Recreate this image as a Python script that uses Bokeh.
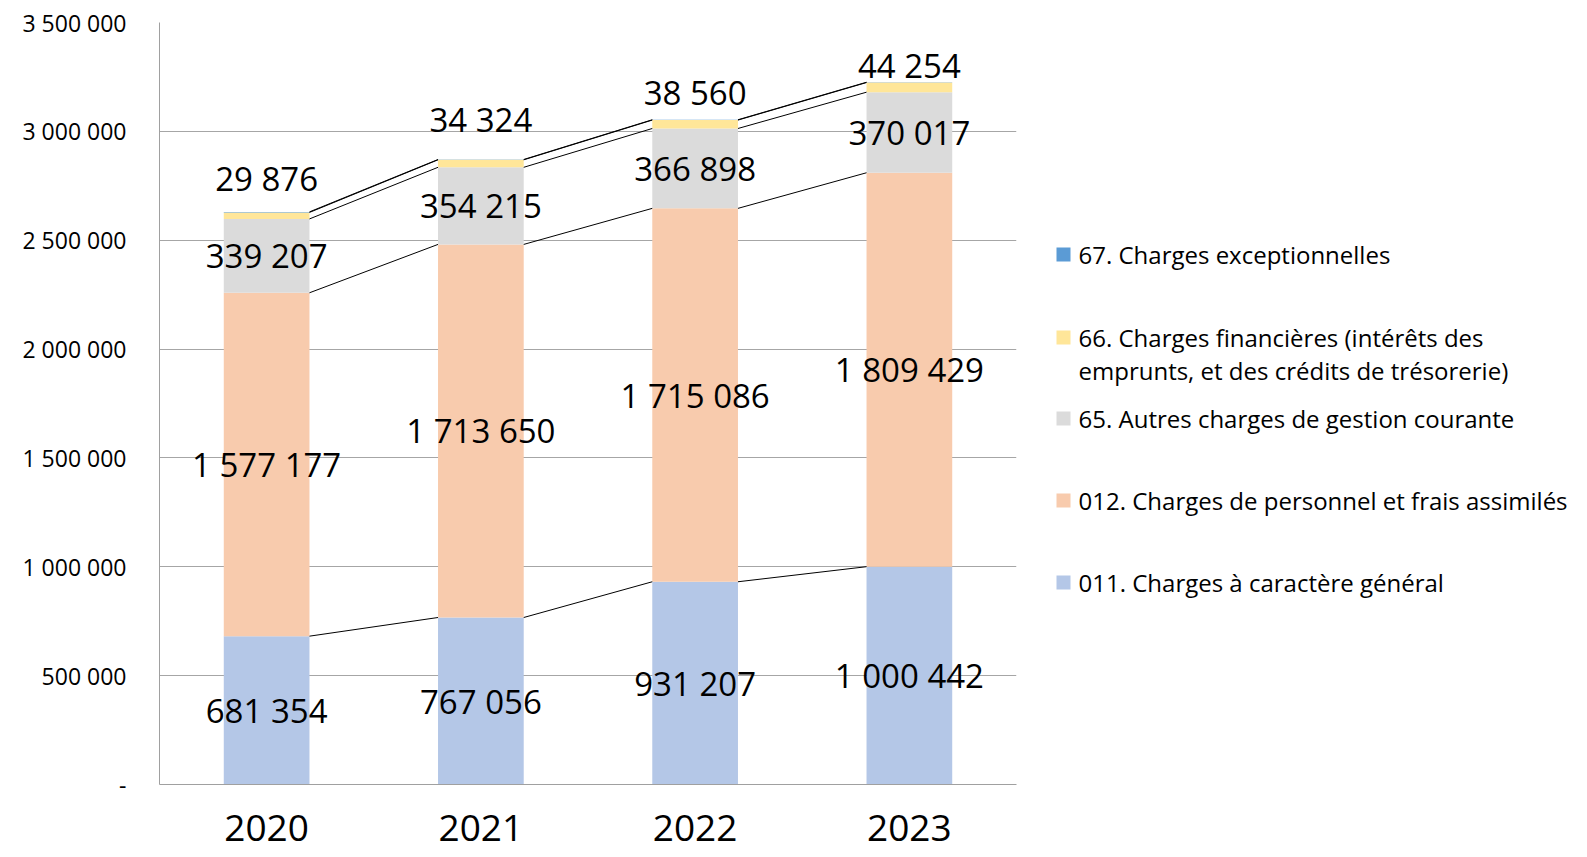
from bokeh.plotting import figure
from bokeh.models import ColumnDataSource, FixedTicker, Range1d
from bokeh.layouts import row
from bokeh.embed import file_html
from bokeh.resources import INLINE
from bokeh.core.properties import value

years = ["2020", "2021", "2022", "2023"]
series_names = [
    "011. Charges à caractère général",
    "012. Charges de personnel et frais assimilés",
    "65. Autres charges de gestion courante",
    "66. Charges financières (intérêts des\nemprunts, et des crédits de trésorerie)",
    "67. Charges exceptionnelles",
]
c011 = [681354, 767056, 931207, 1000442]
c012 = [1577177, 1713650, 1715086, 1809429]
c65 = [339207, 354215, 366898, 370017]
c66 = [29876, 34324, 38560, 44254]
c67 = [2500, 1500, 1500, 1500]
colors = ["#B4C7E7", "#F8CBAD", "#DBDBDB", "#FFE699", "#5B9BD5"]
y_ticks = [0, 500000, 1000000, 1500000, 2000000, 2500000, 3000000, 3500000]

series = [c011, c012, c65, c66, c67]
FONT = "Open Sans"

def fmt(v):
    return f"{v:,}".replace(",", " ")

p = figure(width=1038, height=857, output_backend="svg", toolbar_location=None,
           x_range=Range1d(-0.5, 3.5), y_range=Range1d(0, 3500000),
           min_border_left=159, min_border_right=22, min_border_top=22, min_border_bottom=73)
p.outline_line_color = None
p.xgrid.grid_line_color = None
p.ygrid.grid_line_color = "#A6A6A6"
p.ygrid.ticker = FixedTicker(ticks=y_ticks)

xs = list(range(len(years)))
bottoms = [0] * len(years)
cum_tops = []
for vals, col in zip(series, colors):
    tops = [b + v for b, v in zip(bottoms, vals)]
    src = ColumnDataSource(dict(x=xs, bottom=bottoms, top=tops))
    p.vbar(x="x", bottom="bottom", top="top", width=0.4, source=src,
           fill_color=col, line_color=None)
    cum_tops.append(tops)
    bottoms = tops

# series lines between bars
for tops in cum_tops:
    p.segment(x0=[x + 0.2 for x in xs[:-1]], y0=tops[:-1],
              x1=[x + 0.8 for x in xs[:-1]], y1=tops[1:],
              line_color="black", line_width=1)

# data labels (centered), for first three series
bottoms = [0] * len(years)
for i, vals in enumerate(series[:3]):
    mids = [b + v / 2 for b, v in zip(bottoms, vals)]
    p.text(x=xs, y=mids, text=[fmt(v) for v in vals], text_font=value(FONT),
           text_font_size="33px", text_align="center", text_baseline="middle",
           text_color="black")
    bottoms = [b + v for b, v in zip(bottoms, vals)]

# 66 labels placed above stacks
lab66_offsets = [-33, -40, -27, -17]
p.text(x=xs, y=cum_tops[4], text=[fmt(v) for v in c66], text_font=value(FONT),
       text_font_size="33px", text_align="center", text_baseline="middle",
       text_color="black", y_offset=lab66_offsets)

p.yaxis.ticker = FixedTicker(ticks=y_ticks)
p.yaxis.major_label_overrides = {t: (fmt(t) if t else "-") for t in y_ticks}
p.yaxis.major_label_text_font = FONT
p.yaxis.major_label_text_font_size = "23px"
p.yaxis.major_label_text_color = "black"
p.yaxis.axis_line_color = "#A0A0A0"
p.yaxis.major_tick_line_color = None
p.yaxis.minor_tick_line_color = None
p.yaxis.major_label_standoff = 27

p.xaxis.ticker = FixedTicker(ticks=xs)
p.xaxis.major_label_overrides = {i: y for i, y in enumerate(years)}
p.xaxis.major_label_text_font = FONT
p.xaxis.major_label_text_font_size = "37px"
p.xaxis.major_label_text_color = "black"
p.xaxis.axis_line_color = "#A0A0A0"
p.xaxis.major_tick_line_color = None
p.xaxis.minor_tick_line_color = None
p.xaxis.major_label_standoff = 24

# legend panel (pixel-like coordinates matching the main frame)
lg = figure(width=549, height=857, output_backend="svg", toolbar_location=None,
            x_range=Range1d(0, 549), y_range=Range1d(784, 22),
            min_border_left=0, min_border_right=0,
            min_border_top=22, min_border_bottom=73)
lg.outline_line_color = None
lg.axis.visible = False
lg.grid.visible = False
leg_y = [582, 500, 418, 337, 254]
for name, col, yy in zip(series_names, colors, leg_y):
    lg.rect(x=[25], y=[yy], width=14, height=14, fill_color=col, line_color=None)
    lines = name.split("\n")
    lg.text(x=[40] * len(lines), y=[yy + 33 * k for k in range(len(lines))], text=lines,
            text_font=value(FONT), text_font_size="24px", text_baseline="middle",
            text_align="left", text_color="black")

layout = row(p, lg)
open("out.html", "w").write(file_html(layout, INLINE))
